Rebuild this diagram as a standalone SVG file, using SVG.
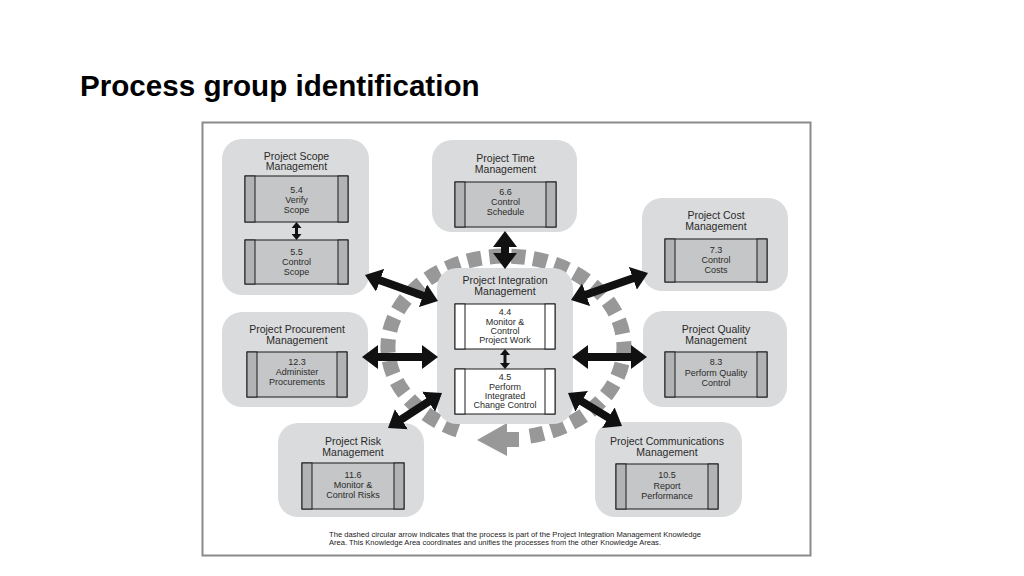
<svg xmlns="http://www.w3.org/2000/svg" width="1024" height="576" viewBox="0 0 1024 576">
<style>
.node{fill:#dadbdc}
.ib{fill:#c5c6c7;stroke:#1a1a1a;stroke-width:1}
.iw{fill:#ffffff;stroke:#1a1a1a;stroke-width:1}
.bar{fill:#b2b3b4;stroke:#1a1a1a;stroke-width:1}
.barw{fill:#ffffff;stroke:#1a1a1a;stroke-width:1}
.t{font-family:"Liberation Sans",Arial,sans-serif;font-size:10.5px;fill:#2a2a2a;text-anchor:middle}
.s{font-family:"Liberation Sans",Arial,sans-serif;font-size:9px;fill:#2a2a2a;text-anchor:middle}
.big{stroke:#111;stroke-width:8;fill:none;marker-start:url(#ah);marker-end:url(#ah)}
.sm{stroke:#111;stroke-width:3;fill:none;marker-start:url(#as);marker-end:url(#as)}
</style>
<defs>
<marker id="ah" markerUnits="userSpaceOnUse" markerWidth="16" markerHeight="24" viewBox="0 0 16 24" refX="1" refY="12" orient="auto-start-reverse"><path d="M0,0 L16,12 L0,24 z" fill="#111"/></marker>
<marker id="as" markerUnits="userSpaceOnUse" markerWidth="6" markerHeight="10" viewBox="0 0 6 10" refX="0.5" refY="5" orient="auto-start-reverse"><path d="M0,0 L6,5 L0,10 z" fill="#111"/></marker>
</defs>
<rect width="1024" height="576" fill="#ffffff"/>
<text x="80" y="96" font-family="Liberation Sans, Arial, sans-serif" font-size="29.6" font-weight="bold" fill="#000">Process group identification</text>
<rect x="202.5" y="122.5" width="608" height="433" fill="#ffffff" stroke="#8a8a8a" stroke-width="2"/>

<g id="cycle">
<path d="M522,437.2 A118,91 0 1 0 462,431.5" fill="none" stroke="#989898" stroke-width="15" stroke-dasharray="14 8" stroke-dashoffset="14"/>
<polygon points="477,440 507,423 507,432 519,432 519,447 507,447 507,456" fill="#989898"/>
</g>

<g id="scope">
<rect class="node" x="222" y="139" width="147" height="156" rx="20"/>
<text class="t" x="296.5" y="159.5">Project Scope</text>
<text class="t" x="296.5" y="170">Management</text>
<rect class="ib" x="245" y="176" width="103" height="46"/>
<rect class="bar" x="245" y="176" width="10" height="46"/>
<rect class="bar" x="338" y="176" width="10" height="46"/>
<text class="s" x="296.5" y="193.2">5.4</text>
<text class="s" x="296.5" y="203.2">Verify</text>
<text class="s" x="296.5" y="213.2">Scope</text>
<rect class="ib" x="245" y="240" width="103" height="44"/>
<rect class="bar" x="245" y="240" width="10" height="44"/>
<rect class="bar" x="338" y="240" width="10" height="44"/>
<text class="s" x="296.5" y="254.5">5.5</text>
<text class="s" x="296.5" y="265">Control</text>
<text class="s" x="296.5" y="275">Scope</text>
<line class="sm" x1="296.5" y1="227.5" x2="296.5" y2="234.5"/>
</g>

<g id="time">
<rect class="node" x="432" y="140" width="145" height="92" rx="20"/>
<text class="t" x="505.5" y="161.5">Project Time</text>
<text class="t" x="505.5" y="172.5">Management</text>
<rect class="ib" x="455" y="182" width="101" height="45"/>
<rect class="bar" x="455" y="182" width="10" height="45"/>
<rect class="bar" x="546" y="182" width="10" height="45"/>
<text class="s" x="505.5" y="195">6.6</text>
<text class="s" x="505.5" y="205">Control</text>
<text class="s" x="505.5" y="215">Schedule</text>
</g>

<g id="cost">
<rect class="node" x="642" y="198" width="146" height="93" rx="20"/>
<text class="t" x="716" y="218.5">Project Cost</text>
<text class="t" x="716" y="229.5">Management</text>
<rect class="ib" x="665" y="239" width="102" height="43"/>
<rect class="bar" x="665" y="239" width="10" height="43"/>
<rect class="bar" x="757" y="239" width="10" height="43"/>
<text class="s" x="716" y="253">7.3</text>
<text class="s" x="716" y="263">Control</text>
<text class="s" x="716" y="272.5">Costs</text>
</g>

<g id="procurement">
<rect class="node" x="222" y="312" width="146" height="95" rx="20"/>
<text class="t" x="297" y="333">Project Procurement</text>
<text class="t" x="297" y="343.5">Management</text>
<rect class="ib" x="247" y="352" width="100" height="45"/>
<rect class="bar" x="247" y="352" width="10" height="45"/>
<rect class="bar" x="337" y="352" width="10" height="45"/>
<text class="s" x="297" y="365">12.3</text>
<text class="s" x="297" y="375">Administer</text>
<text class="s" x="297" y="385">Procurements</text>
</g>

<g id="integration">
<rect class="node" x="437" y="268" width="136" height="156" rx="20"/>
<text class="t" x="505" y="283.5">Project Integration</text>
<text class="t" x="505" y="294.5">Management</text>
<rect class="iw" x="455" y="304" width="100" height="45"/>
<rect class="barw" x="455" y="304" width="10" height="45"/>
<rect class="barw" x="545" y="304" width="10" height="45"/>
<text class="s" x="505" y="315">4.4</text>
<text class="s" x="505" y="324.5">Monitor &amp;</text>
<text class="s" x="505" y="333.5">Control</text>
<text class="s" x="505" y="343">Project Work</text>
<rect class="iw" x="455" y="369" width="100" height="45"/>
<rect class="barw" x="455" y="369" width="10" height="45"/>
<rect class="barw" x="545" y="369" width="10" height="45"/>
<text class="s" x="505" y="380">4.5</text>
<text class="s" x="505" y="389.5">Perform</text>
<text class="s" x="505" y="398.5">Integrated</text>
<text class="s" x="505" y="407.5">Change Control</text>
<line class="sm" x1="505" y1="354.5" x2="505" y2="363.5"/>
</g>

<g id="quality">
<rect class="node" x="643" y="311" width="144" height="96" rx="20"/>
<text class="t" x="716" y="332.5">Project Quality</text>
<text class="t" x="716" y="343.5">Management</text>
<rect class="ib" x="665" y="352" width="102" height="45"/>
<rect class="bar" x="665" y="352" width="10" height="45"/>
<rect class="bar" x="757" y="352" width="10" height="45"/>
<text class="s" x="716" y="365">8.3</text>
<text class="s" x="716" y="375.5">Perform Quality</text>
<text class="s" x="716" y="385.5">Control</text>
</g>

<g id="risk">
<rect class="node" x="278" y="423" width="146" height="94" rx="20"/>
<text class="t" x="353" y="445">Project Risk</text>
<text class="t" x="353" y="456">Management</text>
<rect class="ib" x="302" y="463" width="102" height="46"/>
<rect class="bar" x="302" y="463" width="10" height="46"/>
<rect class="bar" x="394" y="463" width="10" height="46"/>
<text class="s" x="353" y="478">11.6</text>
<text class="s" x="353" y="488">Monitor &amp;</text>
<text class="s" x="353" y="498">Control Risks</text>
</g>

<g id="communications">
<rect class="node" x="595" y="422" width="147" height="95" rx="20"/>
<text class="t" x="667" y="445">Project Communications</text>
<text class="t" x="667" y="455.5">Management</text>
<rect class="ib" x="616" y="464" width="102" height="45"/>
<rect class="bar" x="616" y="464" width="10" height="45"/>
<rect class="bar" x="708" y="464" width="10" height="45"/>
<text class="s" x="667" y="478">10.5</text>
<text class="s" x="667" y="489">Report</text>
<text class="s" x="667" y="499">Performance</text>
</g>

<g id="connectors">
<line class="big" x1="379.13" y1="280.03" x2="423.87" y2="295.97"/>
<line class="big" x1="505" y1="246" x2="505" y2="254"/>
<line class="big" x1="585.15" y1="295.04" x2="633.85" y2="277.96"/>
<line class="big" x1="377" y1="357" x2="423" y2="357"/>
<line class="big" x1="587" y1="357" x2="632" y2="357"/>
<line class="big" x1="400.59" y1="419.84" x2="429.41" y2="401.16"/>
<line class="big" x1="580.8" y1="400.82" x2="609.2" y2="418.18"/>
</g>

<g id="caption" font-family="Liberation Sans, Arial, sans-serif" font-size="7" fill="#222">
<text x="329" y="536.5" textLength="372" lengthAdjust="spacingAndGlyphs">The dashed circular arrow indicates that the process is part of the Project Integration Management Knowledge</text>
<text x="329" y="545" textLength="332" lengthAdjust="spacingAndGlyphs">Area. This Knowledge Area coordinates and unifies the processes from the other Knowledge Areas.</text>
</g>
</svg>
